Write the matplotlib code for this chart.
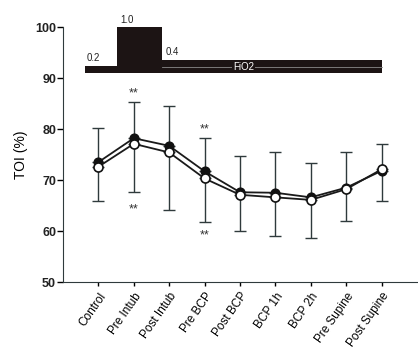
import matplotlib
matplotlib.use("Agg")
import matplotlib.pyplot as plt
import numpy as np

plt.rcParams['font.family'] = ['Liberation Sans', 'DejaVu Sans']

categories = ["Control", "Pre Intub", "Post Intub", "Pre BCP", "Post BCP",
              "BCP 1h", "BCP 2h", "Pre Supine", "Post Supine"]
filled_mean = [73.5, 78.2, 76.7, 71.7, 67.6, 67.5, 66.6, 68.5, 71.8]
filled_sd = [6.6, 7.0, 7.9, 6.5, 7.1, 8.0, 6.7, 7.0, 5.3]
open_mean = [72.6, 77.1, 75.4, 70.3, 67.1, 66.6, 66.1, 68.2, 72.1]
open_sd = [6.7, 9.5, 11.3, 8.6, 7.1, 7.6, 7.4, 6.3, 6.2]

# FiO2 step profile (x in category units, level top in y units)
fio2_edges = [-0.38, 0.52, 1.8, 8.0]
fio2_tops = [92.3, 100.0, 93.6]
fio2_labels = ["0.2", "1.0", "0.4"]
fio2_base = 90.9

star_above = {1: 87.0, 3: 80.0}
star_below = {1: 64.3, 3: 59.2}

fig = plt.figure(figsize=(4.18, 3.53), dpi=100)
ax = fig.add_axes([0.1507, 0.2011, 0.8469, 0.7224])
x = np.arange(len(categories))

ecol = '#2f3a3c'
# upper error of filled, lower error of open
ax.errorbar(x, filled_mean, yerr=[np.zeros(len(x)), filled_sd], fmt='none',
            ecolor=ecol, elinewidth=1.0, capsize=4, capthick=1.0, zorder=2)
ax.errorbar(x, open_mean, yerr=[open_sd, np.zeros(len(x))], fmt='none',
            ecolor=ecol, elinewidth=1.0, capsize=4, capthick=1.0, zorder=2)

ax.plot(x, filled_mean, '-', color='#1a1a1a', lw=1.3, zorder=3)
ax.plot(x, filled_mean, 'o', color='#111111', ms=6.3, mec='#111111', zorder=4)
ax.plot(x, open_mean, '-', color='#1a1a1a', lw=1.3, zorder=5)
ax.plot(x, open_mean, 'o', mfc='white', mec='#111111', ms=6.5, mew=1.2, zorder=6)

# FiO2 bar
for i in range(3):
    ax.fill_between([fio2_edges[i], fio2_edges[i + 1]], fio2_base, fio2_tops[i],
                    color='#1c1414', lw=0, zorder=3)
ax.plot([fio2_edges[2], fio2_edges[3]], [92.2, 92.2], color='#8a8a8a', lw=0.6, zorder=3.5)
ax.text(fio2_edges[0] + 0.05, fio2_tops[0] + 0.6, fio2_labels[0], fontsize=7, va='bottom', ha='left', color='#222')
ax.text(fio2_edges[1] + 0.1, fio2_tops[1] + 0.4, fio2_labels[1], fontsize=7, va='bottom', ha='left', color='#222')
ax.text(fio2_edges[2] + 0.1, fio2_tops[2] + 0.6, fio2_labels[2], fontsize=7, va='bottom', ha='left', color='#222')
ax.text(4.1, 92.2, "FiO2", fontsize=7, color='white', ha='center', va='center', zorder=4,
        bbox=dict(facecolor='#1c1414', edgecolor='none', pad=0.5))

for k, v in star_above.items():
    ax.text(k, v, "**", ha='center', va='center', fontsize=9, color='#333')
for k, v in star_below.items():
    ax.text(k, v, "**", ha='center', va='center', fontsize=9, color='#333')

ax.set_xlim(-1, 9)
ax.set_ylim(50, 100)
ax.set_yticks([50, 60, 70, 80, 90, 100])
ax.set_xticks(x)
ax.set_xticklabels(categories, rotation=55, ha='right', rotation_mode='anchor', fontsize=8.5)
ax.tick_params(axis='y', labelsize=9, length=4, width=1, direction='out', pad=1)
ax.tick_params(axis='x', length=3, width=1, direction='out', pad=3)
for lab in ax.get_yticklabels():
    lab.set_fontweight('bold')
    lab.set_color('#222')
ax.spines['top'].set_visible(False)
ax.spines['right'].set_visible(False)
ax.spines['left'].set_color('#2f3a3c')
ax.spines['bottom'].set_color('#2f3a3c')
ax.set_ylabel("TOI (%)", fontsize=10, labelpad=5)

fig.savefig("out.png", dpi=100)
